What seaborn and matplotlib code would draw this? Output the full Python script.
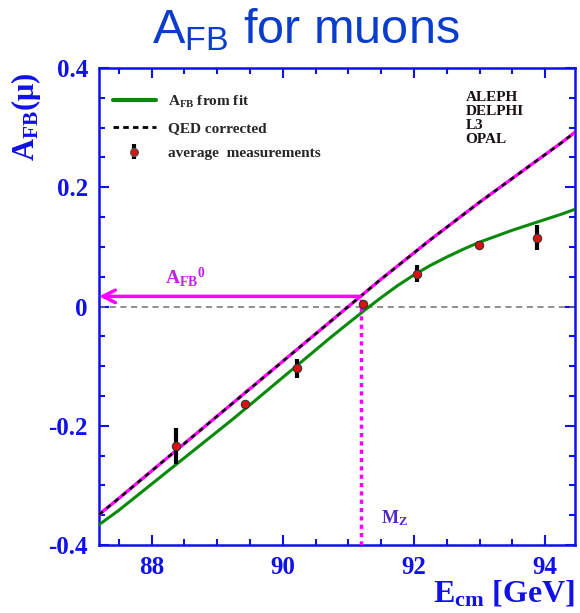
import numpy as np
import pandas as pd
import matplotlib
matplotlib.use("Agg")
import matplotlib.pyplot as plt
from matplotlib.lines import Line2D
from matplotlib.ticker import MultipleLocator
import seaborn as sns

# ---- data ----
meas_E = [88.38, 89.43, 90.21, 91.23, 92.04, 92.99, 93.87]
meas_A = [-0.234, -0.164, -0.104, 0.005, 0.055, 0.104, 0.115]
meas_err = [0.030, 0.006, 0.016, 0.003, 0.014, 0.006, 0.021]

fit_E = [87.2, 87.5, 87.75, 88.0, 88.25, 88.5, 88.75, 89.0, 89.25, 89.5,
         89.75, 90.0, 90.25, 90.5, 90.75, 91.0, 91.25, 91.5, 91.75, 92.0,
         92.25, 92.5, 92.75, 93.0, 93.25, 93.5, 93.75, 94.0, 94.25, 94.45]
fit_A = [-0.366, -0.342, -0.320, -0.298, -0.276, -0.254, -0.232, -0.210,
         -0.188, -0.165, -0.142, -0.119, -0.096, -0.073, -0.050, -0.028,
         -0.006, 0.015, 0.035, 0.053, 0.069, 0.083, 0.096, 0.108, 0.118,
         0.128, 0.137, 0.146, 0.155, 0.163]

qed_E = [87.2, 87.5, 87.75, 88.0, 88.25, 88.5, 88.75, 89.0, 89.25, 89.5,
         89.75, 90.0, 90.25, 90.5, 90.75, 91.0, 91.25, 91.5, 91.75, 92.0,
         92.25, 92.5, 92.75, 93.0, 93.25, 93.5, 93.75, 94.0, 94.25, 94.45]
qed_A = [-0.349, -0.322, -0.299, -0.276, -0.253, -0.230, -0.207, -0.184,
         -0.161, -0.138, -0.115, -0.092, -0.069, -0.046, -0.023, 0.000,
         0.023, 0.046, 0.068, 0.090, 0.112, 0.133, 0.154, 0.175, 0.195,
         0.215, 0.235, 0.255, 0.275, 0.292]

MZ = 91.19
AFB0 = 0.017
experiments = ["ALEPH", "DELPHI", "L3", "OPAL"]
x_ticks = [88, 90, 92, 94]
y_ticks = [-0.4, -0.2, 0, 0.2, 0.4]
y_ticklabels = ["-0.4", "-0.2", "0", "0.2", "0.4"]

sns.set_style("ticks")
plt.rcParams["font.family"] = ["Liberation Serif", "DejaVu Serif"]
plt.rcParams["font.weight"] = "bold"
plt.rcParams["mathtext.default"] = "regular"

BLUE = "#1010e8"
TITLE_BLUE = "#0a3dcc"
MAG = "#ff00ff"

fig = plt.figure(figsize=(5.8, 6.13), dpi=100)
ax = fig.add_axes([0.1707, 0.111, 0.8203, 0.778])

fit_df = pd.DataFrame({"E": fit_E, "A": fit_A})
qed_df = pd.DataFrame({"E": qed_E, "A": qed_A})
meas_df = pd.DataFrame({"E": meas_E, "A": meas_A, "err": meas_err})

# zero line
ax.axhline(0, color="#707070", lw=1.1, ls=(0, (4, 3)), zorder=1)

sns.lineplot(data=fit_df, x="E", y="A", color="#0a8a0a", lw=2.2, ax=ax, zorder=3)
sns.lineplot(data=qed_df, x="E", y="A", color=MAG, lw=2.4, ax=ax, zorder=4)
sns.lineplot(data=qed_df, x="E", y="A", color="black", lw=1.8, ax=ax, zorder=5,
             linestyle=(0, (2, 2)))

# MZ dotted line and AFB0 arrow
ax.plot([MZ, MZ], [-0.4, AFB0], color=MAG, lw=2.5, ls=(0, (1.2, 1.2)), zorder=6)
ax.annotate("", xy=(87.2, AFB0), xytext=(MZ, AFB0),
            arrowprops=dict(arrowstyle="->,head_length=0.9,head_width=0.45",
                            color=MAG, lw=2.5, shrinkA=0, shrinkB=0), zorder=6)

# measurements
ax.errorbar(meas_df["E"], meas_df["A"], yerr=meas_df["err"], fmt="none",
            ecolor="black", elinewidth=3, capsize=0, zorder=7)
sns.scatterplot(data=meas_df, x="E", y="A", color="#e01010", edgecolor="#333333",
                linewidth=0.8, s=36, ax=ax, zorder=8)

ax.set_xlim(87.2, 94.45)
ax.set_ylim(-0.4, 0.4)
ax.set_xticks(x_ticks)
ax.set_yticks(y_ticks)
ax.set_yticklabels(y_ticklabels)
ax.xaxis.set_minor_locator(MultipleLocator(0.5))
ax.yaxis.set_minor_locator(MultipleLocator(0.05))
ax.tick_params(which="both", direction="in", top=True, right=True, color=BLUE,
               width=1.5, labelcolor=BLUE, labelsize=18)
ax.tick_params(which="major", length=7, pad=8)
ax.tick_params(which="minor", length=4)
for lab in ax.get_xticklabels() + ax.get_yticklabels():
    lab.set_fontweight("bold")
for sp in ax.spines.values():
    sp.set_color(BLUE)
    sp.set_linewidth(1.8)
ax.set_xlabel("")
ax.set_ylabel("")

# legend
fit_h = Line2D([], [], color="#0a8a0a", lw=3)
qed_h = Line2D([], [], color="black", lw=2, ls=(0, (2, 1.5)))
eb = ax.errorbar([], [], yerr=[], fmt="o", color="black", ecolor="black",
                 elinewidth=3, markersize=5.5, markerfacecolor="#e01010",
                 markeredgecolor="#555555")
labels = ["A$_{FB}$ from fit", "QED corrected", "average  measurements"]
leg = ax.legend([fit_h, qed_h, eb], labels, loc="upper left",
                bbox_to_anchor=(0.0, 0.975), frameon=False,
                prop=dict(family="Liberation Serif", weight="bold", size=11),
                handlelength=2.8, labelspacing=0.75, borderaxespad=0.5)

ax.text(0.77, 0.952, "\n".join(experiments), transform=ax.transAxes,
        ha="left", va="top", fontsize=11, fontweight="bold", color="#1a1010",
        linespacing=1.1)

ax.text(88.2, 0.03, "A$_{FB}$$^{0}$", color="#c020f0", fontsize=14,
        fontweight="bold", ha="left", va="bottom")
ax.text(91.5, -0.355, "M$_{Z}$", color="#5028c8", fontsize=13,
        fontweight="bold", ha="left", va="center")

# titles/labels
fig.text(0.527, 0.951, "A$_{FB}$ for muons", ha="center", va="center",
         family=["Liberation Sans", "DejaVu Sans"], fontweight="normal",
         fontsize=35, color=TITLE_BLUE)
fig.text(0.991, 0.018, "E$_{cm}$ [GeV]", ha="right", va="baseline",
         fontsize=23, fontweight="bold", color=BLUE)
fig.text(0.045, 0.81, "A$_{FB}$($\\mu$)", ha="center", va="center",
         rotation=90, fontsize=22, fontweight="bold", color=BLUE)

fig.savefig("out.png", dpi=100)
